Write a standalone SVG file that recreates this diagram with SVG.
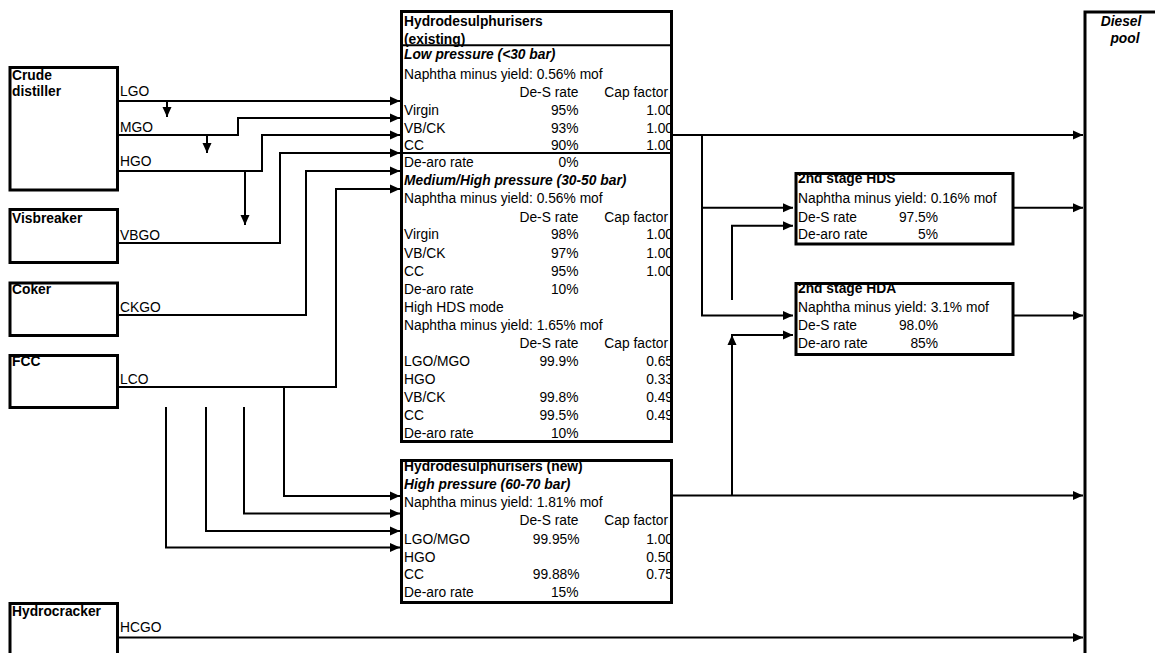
<svg xmlns="http://www.w3.org/2000/svg" width="1155" height="653" viewBox="0 0 1155 653">
<style>
text{font-family:"Liberation Sans",Arial,sans-serif;font-size:13.8px;fill:#000}
.b{font-weight:bold}
.bi{font-weight:bold;font-style:italic}
.r{text-anchor:end}
.m{text-anchor:middle}
.bg{fill:#fff;stroke:none}
.box{fill:none;stroke:#000;stroke-width:3}
.c{fill:none;stroke:#000;stroke-width:2}
.dv{stroke:#000;stroke-width:2}
</style>
<defs>
<marker id="ar" markerUnits="userSpaceOnUse" markerWidth="10" markerHeight="9" refX="10" refY="4.5" orient="auto" overflow="visible"><path d="M0,0L10,4.5L0,9z" fill="#000"/></marker>
</defs>
<rect width="1155" height="653" fill="#fff"/>

<g id="crude">
<rect class="bg" x="10" y="67.5" width="107.5" height="122.5"/>
<text class="b" x="12" y="79.5">Crude</text>
<text class="b" x="12" y="95.5">distiller</text>
<rect class="box" x="10" y="67.5" width="107.5" height="122.5"/>
</g>
<g id="visbreaker">
<rect class="bg" x="10" y="209.5" width="107.5" height="53"/>
<text class="b" x="12" y="222.5">Visbreaker</text>
<rect class="box" x="10" y="209.5" width="107.5" height="53"/>
</g>
<g id="coker">
<rect class="bg" x="10" y="283" width="107.5" height="52.5"/>
<text class="b" x="12" y="294">Coker</text>
<rect class="box" x="10" y="283" width="107.5" height="52.5"/>
</g>
<g id="fcc">
<rect class="bg" x="10" y="355.5" width="107.5" height="52"/>
<text class="b" x="12" y="366">FCC</text>
<rect class="box" x="10" y="355.5" width="107.5" height="52"/>
</g>
<g id="hydrocracker">
<rect class="bg" x="10" y="603.5" width="107.5" height="60"/>
<text class="b" x="12" y="615.5">Hydrocracker</text>
<rect class="box" x="10" y="603.5" width="107.5" height="60"/>
</g>

<g id="hds-existing">
<rect class="bg" x="401.5" y="11.5" width="270" height="430"/>
<text class="b" x="404" y="26">Hydrodesulphurisers</text>
<text class="b" x="404" y="43.5">(existing)</text>
<line class="dv" x1="401.5" y1="45.3" x2="671.5" y2="45.3"/>
<text class="bi" x="404" y="58.5">Low pressure (&lt;30 bar)</text>
<text x="404" y="79">Naphtha minus yield: 0.56% mof</text>
<text class="r" x="578.5" y="97.3">De-S rate</text><text class="r" x="668" y="97.3">Cap factor</text>
<text x="404" y="114.5">Virgin</text><text class="r" x="578.5" y="114.5">95%</text><text class="r" x="673" y="114.5">1.00</text>
<text x="404" y="132.5">VB/CK</text><text class="r" x="578.5" y="132.5">93%</text><text class="r" x="673" y="132.5">1.00</text>
<text x="404" y="150">CC</text><text class="r" x="578.5" y="150">90%</text><text class="r" x="673" y="150">1.00</text>
<line class="dv" x1="401.5" y1="153" x2="671.5" y2="153"/>
<text x="404" y="167">De-aro rate</text><text class="r" x="578.5" y="167">0%</text>
<text class="bi" x="404" y="185">Medium/High pressure (30-50 bar)</text>
<text x="404" y="203">Naphtha minus yield: 0.56% mof</text>
<text class="r" x="578.5" y="221.7">De-S rate</text><text class="r" x="668" y="221.7">Cap factor</text>
<text x="404" y="239.3">Virgin</text><text class="r" x="578.5" y="239.3">98%</text><text class="r" x="673" y="239.3">1.00</text>
<text x="404" y="257.5">VB/CK</text><text class="r" x="578.5" y="257.5">97%</text><text class="r" x="673" y="257.5">1.00</text>
<text x="404" y="275.5">CC</text><text class="r" x="578.5" y="275.5">95%</text><text class="r" x="673" y="275.5">1.00</text>
<text x="404" y="293.5">De-aro rate</text><text class="r" x="578.5" y="293.5">10%</text>
<text x="404" y="312">High HDS mode</text>
<text x="404" y="330">Naphtha minus yield: 1.65% mof</text>
<text class="r" x="578.5" y="347.7">De-S rate</text><text class="r" x="668" y="347.7">Cap factor</text>
<text x="404" y="366">LGO/MGO</text><text class="r" x="578.5" y="366">99.9%</text><text class="r" x="673" y="366">0.65</text>
<text x="404" y="384">HGO</text><text class="r" x="673" y="384">0.33</text>
<text x="404" y="401.7">VB/CK</text><text class="r" x="578.5" y="401.7">99.8%</text><text class="r" x="673" y="401.7">0.49</text>
<text x="404" y="420">CC</text><text class="r" x="578.5" y="420">99.5%</text><text class="r" x="673" y="420">0.49</text>
<text x="404" y="438">De-aro rate</text><text class="r" x="578.5" y="438">10%</text>
<rect class="box" x="401.5" y="11.5" width="270" height="430"/>
</g>

<g id="hds-new">
<rect class="bg" x="401.5" y="460.5" width="270" height="142"/>
<text class="b" x="404" y="470.7">Hydrodesulphurisers (new)</text>
<text class="bi" x="404" y="489.3">High pressure (60-70 bar)</text>
<text x="404" y="507.3">Naphtha minus yield: 1.81% mof</text>
<text class="r" x="578.5" y="525">De-S rate</text><text class="r" x="668" y="525">Cap factor</text>
<text x="404" y="544">LGO/MGO</text><text class="r" x="579.5" y="544">99.95%</text><text class="r" x="673" y="544">1.00</text>
<text x="404" y="561.7">HGO</text><text class="r" x="673" y="561.7">0.50</text>
<text x="404" y="579.3">CC</text><text class="r" x="579.5" y="579.3">99.88%</text><text class="r" x="673" y="579.3">0.75</text>
<text x="404" y="596.7">De-aro rate</text><text class="r" x="578.5" y="596.7">15%</text>
<rect class="box" x="401.5" y="460.5" width="270" height="142"/>
</g>

<g id="hds-2nd">
<rect class="bg" x="796" y="173.5" width="217" height="70.5"/>
<text class="b" x="798" y="183.3">2nd stage HDS</text>
<text x="798" y="203">Naphtha minus yield: 0.16% mof</text>
<text x="798" y="221.7">De-S rate</text><text class="r" x="938" y="221.7">97.5%</text>
<text x="798" y="239.3">De-aro rate</text><text class="r" x="938" y="239.3">5%</text>
<rect class="box" x="796" y="173.5" width="217" height="70.5"/>
</g>

<g id="hda-2nd">
<rect class="bg" x="796" y="283.5" width="217" height="71"/>
<text class="b" x="798" y="293.3">2nd stage HDA</text>
<text x="798" y="312">Naphtha minus yield: 3.1% mof</text>
<text x="798" y="330">De-S rate</text><text class="r" x="938" y="330">98.0%</text>
<text x="798" y="348">De-aro rate</text><text class="r" x="938" y="348">85%</text>
<rect class="box" x="796" y="283.5" width="217" height="71"/>
</g>

<g id="diesel-pool">
<rect class="bg" x="1085" y="12" width="100" height="700"/>
<text class="bi m" x="1121" y="26">Diesel</text>
<text class="bi m" x="1125" y="42.5">pool</text>
<rect class="box" x="1085" y="12" width="100" height="700"/>
</g>

<g id="stream-labels">
<text x="120" y="96">LGO</text>
<text x="120" y="131.7">MGO</text>
<text x="120" y="165.7">HGO</text>
<text x="120" y="240">VBGO</text>
<text x="120" y="312">CKGO</text>
<text x="120" y="384">LCO</text>
<text x="120" y="631.7">HCGO</text>
</g>

<g id="connectors" class="c">
<path class="c" marker-end="url(#ar)" d="M118,101H400"/>
<path class="c" marker-end="url(#ar)" d="M167,101V117"/>
<path class="c" marker-end="url(#ar)" d="M118,135H238V118H400"/>
<path class="c" marker-end="url(#ar)" d="M207,135V153"/>
<path class="c" marker-end="url(#ar)" d="M118,171H262V135H400"/>
<path class="c" marker-end="url(#ar)" d="M245,171V225"/>
<path class="c" marker-end="url(#ar)" d="M118,243H280V153H400"/>
<path class="c" marker-end="url(#ar)" d="M118,315H306V171H400"/>
<path class="c" marker-end="url(#ar)" d="M118,387H336V189H400"/>
<path class="c" marker-end="url(#ar)" d="M284,387V496H400"/>
<path class="c" marker-end="url(#ar)" d="M244,407V513.5H400"/>
<path class="c" marker-end="url(#ar)" d="M206,407V531H400"/>
<path class="c" marker-end="url(#ar)" d="M166,407V547.5H400"/>
<path class="c" marker-end="url(#ar)" d="M118,637.5H1083"/>
<path class="c" marker-end="url(#ar)" d="M672,135H1083"/>
<path class="c" marker-end="url(#ar)" d="M702,135V315.5H793"/>
<path class="c" marker-end="url(#ar)" d="M702,207.7H793"/>
<path class="c" marker-end="url(#ar)" d="M732,300V225.7H793"/>
<path class="c" marker-end="url(#ar)" d="M1013,207.7H1083"/>
<path class="c" marker-end="url(#ar)" d="M1013,315.5H1083"/>
<path class="c" marker-end="url(#ar)" d="M672,495.5H1083"/>
<path class="c" marker-end="url(#ar)" d="M732,495.5V335"/>
<path class="c" marker-end="url(#ar)" d="M731,335H793"/>
</g>
</svg>
